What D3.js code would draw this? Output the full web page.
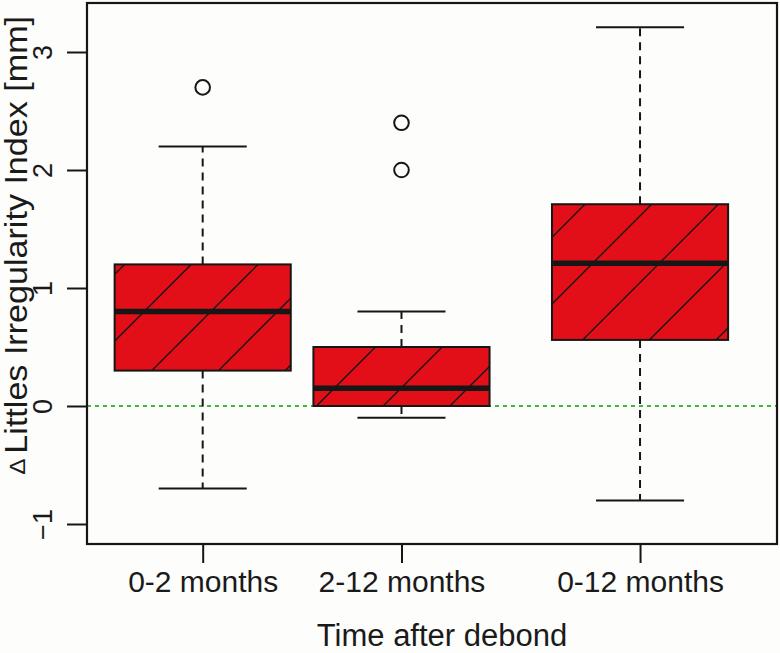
<!DOCTYPE html>
<html>
<head>
<meta charset="utf-8">
<script src="https://cdn.jsdelivr.net/npm/d3@7"></script>
<style>
  html, body { margin: 0; padding: 0; background: #fdfdfb; }
  svg { display: block; }
  text { font-family: "Liberation Sans", Arial, sans-serif; fill: #1a1a1a; }
</style>
</head>
<body>
<svg id="chart" width="780" height="653"></svg>
<script>
// ---------- data ----------
const groups       = ["0-2 months", "2-12 months", "0-12 months"];
const positions    = [1, 2, 3.2];
const whiskerLow   = [-0.7, -0.1, -0.8];
const q1           = [0.3, 0.0, 0.56];
const medians      = [0.8, 0.15, 1.21];
const q3           = [1.2, 0.5, 1.71];
const whiskerHigh  = [2.2, 0.8, 3.21];
const outliers     = [[2.7], [2.4, 2.0], []];
const yTicks       = [-1, 0, 1, 2, 3];
const refLine      = 0;
const xTitle       = "Time after debond";
const yTitle       = "Littles Irregularity Index [mm]";

// ---------- layout ----------
const W = 780, H = 653;
const plot = { left: 87, right: 777, top: 3, bottom: 544 };
const svg = d3.select("#chart");
svg.append("rect").attr("width", W).attr("height", H).attr("fill", "#fdfdfb");

const x = d3.scaleLinear().domain([0.418, 3.889]).range([plot.left, plot.right]);
const y = d3.scaleLinear().domain([-1, 3]).range([524, 52]);

const boxHalf = 0.443;      // in x units
const capHalf = boxHalf / 2;
const hatchStep = 66.7;     // px, horizontal spacing of 45deg hatch
const hatchPhase = 55.5;    // px phase of x+y

const red = "#e30f18";
const ink = "#161616";

const data = groups.map((g, i) => ({
  g, pos: positions[i], lo: whiskerLow[i], q1: q1[i], med: medians[i],
  q3: q3[i], hi: whiskerHigh[i], out: outliers[i]
}));

// reference line
svg.append("line")
  .attr("x1", plot.left).attr("x2", plot.right)
  .attr("y1", y(refLine)).attr("y2", y(refLine))
  .attr("stroke", "#3cba3c").attr("stroke-width", 2)
  .attr("stroke-dasharray", "4,4");

const defs = svg.append("defs");
const gBoxes = svg.append("g");

data.forEach((d, i) => {
  const cx = x(d.pos);
  const x0 = x(d.pos - boxHalf), x1 = x(d.pos + boxHalf);
  const yt = y(d.q3), yb = y(d.q1);
  const g = gBoxes.append("g");

  // whiskers (dashed)
  g.append("line").attr("x1", cx).attr("x2", cx).attr("y1", yt).attr("y2", y(d.hi))
    .attr("stroke", ink).attr("stroke-width", 2).attr("stroke-dasharray", "8,6");
  g.append("line").attr("x1", cx).attr("x2", cx).attr("y1", yb).attr("y2", y(d.lo))
    .attr("stroke", ink).attr("stroke-width", 2).attr("stroke-dasharray", "8,6");
  // caps
  [d.hi, d.lo].forEach(v => {
    g.append("line").attr("x1", x(d.pos - capHalf)).attr("x2", x(d.pos + capHalf))
      .attr("y1", y(v)).attr("y2", y(v)).attr("stroke", ink).attr("stroke-width", 2);
  });

  // box fill
  g.append("rect").attr("x", x0).attr("y", yt).attr("width", x1 - x0).attr("height", yb - yt)
    .attr("fill", red);

  // hatch
  const cid = "clip" + i;
  defs.append("clipPath").attr("id", cid).append("rect")
    .attr("x", x0).attr("y", yt).attr("width", x1 - x0).attr("height", yb - yt);
  const hg = g.append("g").attr("clip-path", `url(#${cid})`);
  const cMin = x0 + yt, cMax = x1 + yb;
  let c = Math.floor((cMin - hatchPhase) / hatchStep) * hatchStep + hatchPhase;
  for (; c <= cMax + hatchStep; c += hatchStep) {
    hg.append("line")
      .attr("x1", c - yb - 5).attr("y1", yb + 5)
      .attr("x2", c - yt + 5).attr("y2", yt - 5)
      .attr("stroke", ink).attr("stroke-width", 1.4);
  }

  // border
  g.append("rect").attr("x", x0).attr("y", yt).attr("width", x1 - x0).attr("height", yb - yt)
    .attr("fill", "none").attr("stroke", ink).attr("stroke-width", 2);

  // median
  g.append("line").attr("x1", x0).attr("x2", x1).attr("y1", y(d.med)).attr("y2", y(d.med))
    .attr("stroke", ink).attr("stroke-width", 5.5);

  // outliers
  g.selectAll("circle.out").data(d.out).enter().append("circle")
    .attr("cx", cx).attr("cy", v => y(v)).attr("r", 7.3)
    .attr("fill", "none").attr("stroke", ink).attr("stroke-width", 2);
});

// plot frame
svg.append("rect")
  .attr("x", plot.left).attr("y", plot.top)
  .attr("width", plot.right - plot.left).attr("height", plot.bottom - plot.top)
  .attr("fill", "none").attr("stroke", ink).attr("stroke-width", 2.2);

// y axis
const yAxis = svg.append("g").attr("transform", `translate(${plot.left},0)`)
  .call(d3.axisLeft(y).tickValues(yTicks).tickSize(20).tickFormat(d3.format("d")));
yAxis.select(".domain").remove();
yAxis.selectAll(".tick line").attr("stroke", ink).attr("stroke-width", 2);
yAxis.selectAll(".tick text")
  .attr("x", null).attr("dy", null)
  .attr("transform", "translate(-35,0) rotate(-90)")
  .attr("text-anchor", "middle")
  .attr("font-size", 27).attr("fill", ink)
  .style("font-family", '"Liberation Sans", Arial, sans-serif');

// x axis
const xAxis = svg.append("g").attr("transform", `translate(0,${plot.bottom})`)
  .call(d3.axisBottom(x).tickValues(positions).tickSize(19).tickFormat((d, i) => groups[i]));
xAxis.select(".domain").remove();
xAxis.selectAll(".tick line").attr("stroke", ink).attr("stroke-width", 2);
xAxis.selectAll(".tick text")
  .attr("y", 48).attr("dy", null)
  .attr("font-size", 30).attr("fill", ink)
  .style("font-family", '"Liberation Sans", Arial, sans-serif');

// titles
svg.append("text")
  .attr("x", (plot.left + plot.right) / 2 + 10).attr("y", 646)
  .attr("text-anchor", "middle").attr("font-size", 31)
  .text(xTitle);

const yt = svg.append("text")
  .attr("transform", "translate(27,16) rotate(-90) scale(1.1,1)")
  .attr("text-anchor", "end").attr("font-size", 31);
yt.append("tspan").attr("font-size", 22).attr("dy", -2).text("\u2206");
yt.append("tspan").attr("dy", 2).attr("dx", 5).text(yTitle);
</script>
</body>
</html>
